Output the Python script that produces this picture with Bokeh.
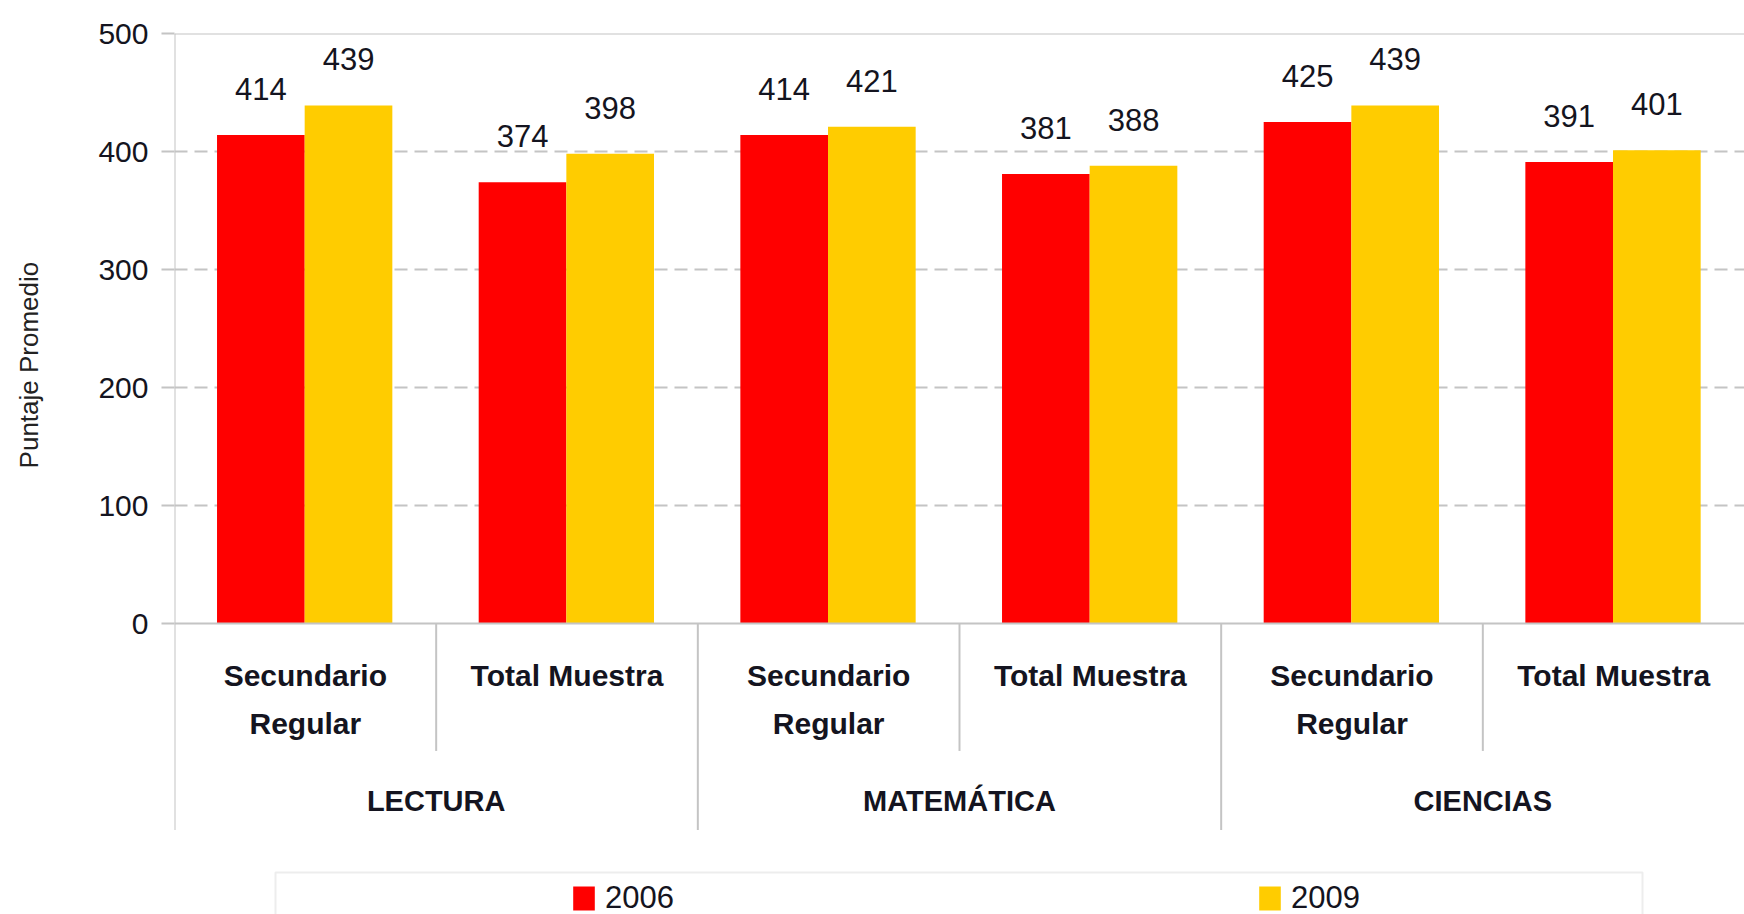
import math
from bokeh.plotting import figure
from bokeh.layouts import row
from bokeh.models import (ColumnDataSource, FactorRange, Range1d, FixedTicker, Span,
                          Label, Legend, LegendItem, BoxAnnotation)
from bokeh.transform import dodge
from bokeh.core.properties import value
from bokeh.embed import file_html
from bokeh.resources import INLINE

# ---------------- data ----------------
groups = ["LECTURA", "MATEMÁTICA", "CIENCIAS"]
subgroups = ["Secundario Regular", "Total Muestra"]
sub_labels = ["Secundario\nRegular", "Total Muestra"]
years = ["2006", "2009"]
scores_2006 = [414, 374, 414, 381, 425, 391]
scores_2009 = [439, 398, 421, 388, 439, 401]
y_ticks = [0, 100, 200, 300, 400, 500]
y_title = "Puntaje Promedio"

# ---------------- styles ----------------
RED = "#FF0000"
YELLOW = "#FFCC00"
GRAY = "#c4c4c4"
TXT = "#141420"
FONT = "Liberation Sans"

factors = [(g, s) for g in groups for s in subgroups]
src = ColumnDataSource(dict(
    x=factors,
    y06=scores_2006,
    y09=scores_2009,
    t06=[str(v) for v in scores_2006],
    t09=[str(v) for v in scores_2009],
    lab=[sub_labels[subgroups.index(s)] for g, s in factors],
))

yr = Range1d(-246.6, 500)

p = figure(
    x_range=FactorRange(*factors, group_padding=0, range_padding=0,
                        factor_padding=0, subgroup_padding=0),
    y_range=yr,
    width=1660, height=914,
    output_backend="svg", toolbar_location=None,
    x_axis_location=None,
    min_border_left=90, min_border_right=0, min_border_top=33, min_border_bottom=0,
)
p.outline_line_color = None
p.background_fill_color = "white"
p.border_fill_color = "white"

# grid
p.xgrid.grid_line_color = None
p.ygrid.ticker = FixedTicker(ticks=[t for t in y_ticks if 0 < t < max(y_ticks)])
p.ygrid.grid_line_color = GRAY
p.ygrid.grid_line_width = 2
p.ygrid.grid_line_dash = "13 7"

# y axis
p.yaxis.ticker = FixedTicker(ticks=y_ticks)
p.yaxis.axis_line_color = None
p.yaxis.major_tick_out = 13
p.yaxis.major_tick_in = 0
p.yaxis.minor_tick_line_color = None
p.yaxis.major_tick_line_color = GRAY
p.yaxis.major_tick_line_width = 2
p.yaxis.major_label_text_font = FONT
p.yaxis.major_label_text_font_size = "30px"
p.yaxis.major_label_text_color = TXT
p.yaxis.major_label_standoff = 13

# bars
r06 = p.vbar(x=dodge("x", -0.17, range=p.x_range), top="y06", bottom=0, width=0.335,
             source=src, fill_color=RED, line_color=None)
r09 = p.vbar(x=dodge("x", 0.165, range=p.x_range), top="y09", bottom=0, width=0.335,
             source=src, fill_color=YELLOW, line_color=None)

# value labels
for xo, col in [(-0.17, "06"), (0.165, "09")]:
    p.text(x=dodge("x", xo, range=p.x_range), y="y" + col, text="t" + col, source=src,
           text_align="center", text_baseline="alphabetic", y_offset=-46,
           text_font=value(FONT), text_font_size="31px", text_color=TXT)

# top and zero lines
p.add_layout(Span(location=max(y_ticks), dimension="width", line_color=GRAY, line_width=2))
p.add_layout(Span(location=0, dimension="width", line_color=GRAY, line_width=2))

# category separators (drawn below zero)
first_factors = [(g, subgroups[0]) for g in groups]
second_factors = [(g, subgroups[1]) for g in groups]
gsep = ColumnDataSource(dict(f=first_factors,
                             y0=[max(y_ticks)] + [0] * (len(groups) - 1),
                             y1=[-175] * len(groups)))
ssep = ColumnDataSource(dict(f=second_factors, y0=[0] * len(groups), y1=[-108] * len(groups)))
p.segment(x0=dodge("f", -0.5, range=p.x_range), x1=dodge("f", -0.5, range=p.x_range),
          y0="y0", y1="y1", source=gsep, line_color=GRAY, line_width=2)
p.segment(x0=dodge("f", -0.5, range=p.x_range), x1=dodge("f", -0.5, range=p.x_range),
          y0="y0", y1="y1", source=ssep, line_color=GRAY, line_width=2)

# category labels
p.text(x="x", y=-30, text="lab", source=src, text_align="center", text_baseline="top",
       text_font=value(FONT), text_font_size="30px", text_font_style="bold",
       text_color=TXT, text_line_height=1.45)
gsrc = ColumnDataSource(dict(f=first_factors, g=groups))
p.text(x=dodge("f", 0.5, range=p.x_range), y=-150, text="g", source=gsrc,
       text_align="center", text_baseline="alphabetic",
       text_font=value(FONT), text_font_size="29px", text_font_style="bold", text_color=TXT)

# legend box + legend
p.add_layout(BoxAnnotation(left=101, right=1468, left_units="screen", right_units="screen",
                           top=-211, bottom=-400, fill_alpha=0, line_color=GRAY, line_width=2))
legend = Legend(items=[LegendItem(label=years[0], renderers=[r06]),
                       LegendItem(label=years[1], renderers=[r09])],
                orientation="horizontal", location=(396, -2), padding=0, margin=0,
                spacing=582, glyph_width=27, glyph_height=30, label_width=68, label_height=30,
                label_standoff=8, label_text_font=FONT, label_text_font_size="31px",
                label_text_color=TXT, border_line_color=None, background_fill_alpha=0)
p.add_layout(legend)

# left strip holding the rotated y title
lf = figure(width=84, height=914, x_range=Range1d(0, 84), y_range=yr,
            output_backend="svg", toolbar_location=None,
            x_axis_location=None, y_axis_location=None,
            min_border_left=0, min_border_right=0, min_border_top=33, min_border_bottom=0)
lf.outline_line_color = None
lf.xgrid.grid_line_color = None
lf.ygrid.grid_line_color = None
lf.add_layout(Label(x=28, y=219, text=y_title, angle=math.pi / 2,
                    text_align="center", text_baseline="middle",
                    text_font=FONT, text_font_size="26px", text_color="#222222"))

layout = row(lf, p, spacing=0)
open("out.html", "w").write(file_html(layout, INLINE))
